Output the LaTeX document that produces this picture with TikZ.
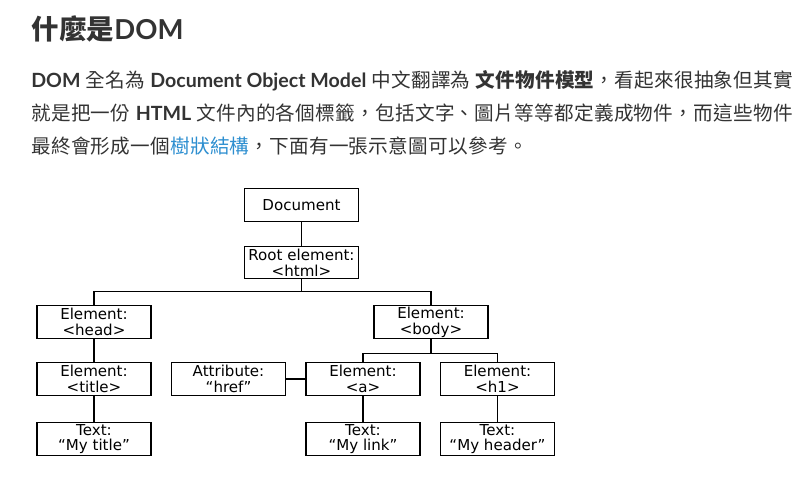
\documentclass[tikz,border=0pt]{standalone}
\usepackage{fontspec}
\setmainfont{Lato}
\newfontfamily\cjk[LetterSpace=1.5]{Noto Sans CJK TC}
\newfontfamily\verd{DejaVu Sans}
\definecolor{ink}{HTML}{333333}
\definecolor{linkblue}{HTML}{2E8FD0}

\begin{document}
\begin{tikzpicture}[x=0.75pt,y=-0.75pt,
 domnode/.style={draw,line width=0.8pt,minimum width=85.5pt,minimum height=24.5pt,
  inner sep=0pt,align=center,font=\verd\fontsize{11.3}{11.8}\selectfont},
 textline/.style={anchor=base west,inner sep=0pt,text=ink,font=\fontsize{14.7}{16}\selectfont}]
 \useasboundingbox(0,0) rectangle (812,502);
 \node[textline,font=\fontsize{20.6}{26}\selectfont\bfseries](heading) at (31,40){{\cjk 什麼是}DOM};
 \node[textline](line1) at (31,88){\textbf{DOM} {\cjk 全名為} \textbf{Document Object Model} {\cjk 中文翻譯為} {\cjk\bfseries 文件物件模型}{\cjk ，看起來很抽象但其實}};
 \node[textline](line2) at (31,121){{\cjk 就是把一份} \textbf{HTML} {\cjk 文件內的各個標籤，包括文字、圖片等等都定義成物件，而這些物件}};
 \node[textline](line3) at (31,154){{\cjk 最終會形成一個\textcolor{linkblue}{樹狀結構}，下面有一張示意圖可以參考。}};
 \node[domnode](doc) at (301.5,205){Document};
 \node[domnode](root) at (301.5,262.5){Root element:\\<html>};
 \node[domnode](head) at (94,322){Element:\\<head>};
 \node[domnode](body) at (431,322){Element:\\<body>};
 \node[domnode](title) at (94,379){Element:\\<title>};
 \node[domnode](attr) at (228.5,379){Attribute:\\“href”};
 \node[domnode](a) at (363,379){Element:\\<a>};
 \node[domnode](h1) at (497.5,379){Element:\\<h1>};
 \node[domnode](titletext) at (94,439){Text:\\“My title”};
 \node[domnode](linktext) at (363,439){Text:\\“My link”};
 \node[domnode](headertext) at (497.5,439){Text:\\“My header”};
 \draw[line width=0.8pt](doc.south)--(root.north);
 \draw[line width=0.8pt](root.south)-- ++(0,12) coordinate(rootbus) -|(head.north);
 \draw[line width=0.8pt](rootbus)-|(body.north);
 \draw[line width=0.8pt](body.south)-- ++(0,15) coordinate(bodybus) -|(a.north);
 \draw[line width=0.8pt](bodybus)-|(h1.north);
 \draw[line width=0.8pt](head.south)--(title.north);
 \draw[line width=0.8pt](title.south)--(titletext.north);
 \draw[line width=0.8pt](attr.east)--(a.west);
 \draw[line width=0.8pt](a.south)--(linktext.north);
 \draw[line width=0.8pt](h1.south)--(headertext.north);
\end{tikzpicture}
\end{document}
